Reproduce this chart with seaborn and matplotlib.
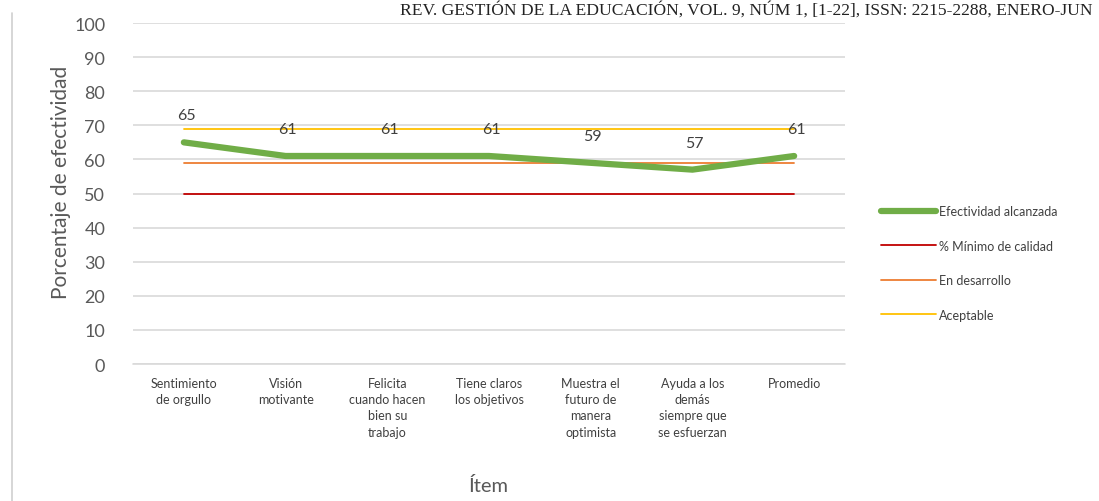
import matplotlib
matplotlib.use("Agg")
import matplotlib.pyplot as plt
import seaborn as sns
import pandas as pd
from matplotlib.lines import Line2D

items = ["Sentimiento\nde orgullo", "Visión\nmotivante", "Felicita\ncuando hacen\nbien su\ntrabajo",
         "Tiene claros\nlos objetivos", "Muestra el\nfuturo de\nmanera\noptimista",
         "Ayuda a los\ndemás\nsiempre que\nse esfuerzan", "Promedio"]
efectividad = [65, 61, 61, 61, 59, 57, 61]
minimo = [50, 50, 50, 50, 50, 50, 50]
desarrollo = [59, 59, 59, 59, 59, 59, 59]
aceptable = [69, 69, 69, 69, 69, 69, 69]
series_names = ["Efectividad alcanzada", "% Mínimo de calidad", "En desarrollo", "Aceptable"]
yticks = [0, 10, 20, 30, 40, 50, 60, 70, 80, 90, 100]

sns.set_theme(style="white")
plt.rcParams['font.family'] = ['Lato', 'DejaVu Sans']

colors = {"Efectividad alcanzada": "#70ad47", "% Mínimo de calidad": "#c00000",
          "En desarrollo": "#ed7d31", "Aceptable": "#ffc000"}
widths = {"Efectividad alcanzada": 4.5, "% Mínimo de calidad": 1.3,
          "En desarrollo": 1.3, "Aceptable": 1.3}

pos = list(range(len(items)))
df = pd.DataFrame({"pos": pos, series_names[0]: efectividad, series_names[1]: minimo,
                   series_names[2]: desarrollo, series_names[3]: aceptable})

fig = plt.figure(figsize=(10.99, 5.02), dpi=100)
ax = fig.add_axes([133/1099, 137/502, 712/1099, 341/502])

for name in series_names[::-1]:
    sns.lineplot(data=df, x="pos", y=name, ax=ax, color=colors[name],
                 linewidth=widths[name], legend=False, zorder=3 if name == series_names[0] else 2)

for x, v in zip(pos, efectividad):
    ax.annotate(f"{v}", (x, v), xytext=(1.5, 19.5), textcoords="offset points",
                ha="center", va="center", fontsize=11.5, color="#404040")

ax.set_xlim(-0.5, len(items) - 0.5)
ax.set_ylim(0, 100)
ax.set_yticks(yticks)
ax.set_yticklabels([str(t) for t in yticks], fontsize=13, color="#595959")
ax.set_xticks(pos)
ax.set_xticklabels(items, fontsize=9, color="#404040", linespacing=1.45, va="top")
ax.tick_params(axis="x", length=0, pad=9)
ax.tick_params(axis="y", length=0, pad=20)
ax.grid(axis="y", color="#d9d9d9", linewidth=1.2)
ax.axhline(0, color="#d9d9d9", linewidth=1.2, clip_on=False, zorder=1)
for s in ax.spines.values():
    s.set_visible(False)
ax.set_xlabel("Ítem", fontsize=14.5, color="#595959", labelpad=27)
ax.set_ylabel("Porcentaje de efectividad", fontsize=15, color="#595959")
ax.yaxis.set_label_coords(-0.087, 0.535)

handles = [Line2D([0], [0], color=colors[n], linewidth=widths[n]) for n in series_names]
fig.legend(handles, series_names, loc="center left", bbox_to_anchor=(870/1099, 1 - 264/502),
           frameon=False, fontsize=9, handlelength=4.4, handletextpad=0.2,
           labelspacing=1.8, labelcolor="#404040")

fig.text(400/1099, 1 - 15/502, "REV. GESTIÓN DE LA EDUCACIÓN, VOL. 9, NÚM 1, [1-22], ISSN: 2215-2288, ENERO-JUN",
         fontsize=12.6, family="Liberation Serif", color="#222222", va="baseline", ha="left")
fig.add_artist(Line2D([12/1099, 12/1099], [0, 1 - 14/502], color="#d0d0d0", linewidth=1.2))

fig.savefig("out.png", dpi=100)
